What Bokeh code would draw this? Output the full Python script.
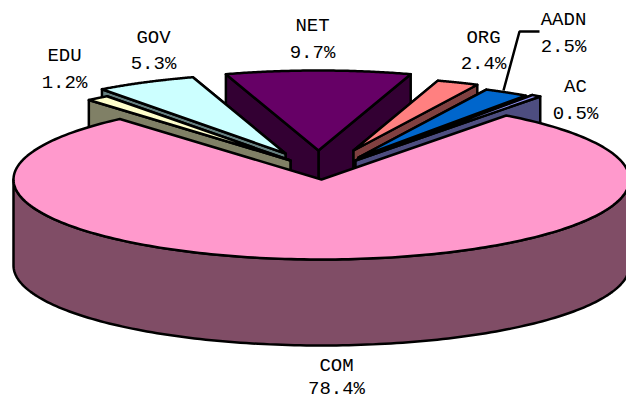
import numpy as np
from bokeh.core.properties import value
from bokeh.embed import file_html
from bokeh.plotting import figure
from bokeh.resources import INLINE

# Domain share of hosts, in percent
names = ["EDU", "GOV", "NET", "ORG", "AADN", "AC", "COM"]
shares = [1.2, 5.3, 9.7, 2.4, 2.5, 0.5, 78.4]
top_colors = ["#ffffcc", "#ccffff", "#660066", "#ff8080", "#0066cc", "#9999ff", "#ff99cc"]
wall_colors = ["#808066", "#668080", "#330033", "#804040", "#003366", "#4d4d80", "#804d66"]

# Pull-out of each wedge from the pie centre in pixels, and its radius factor
pull_x = [-31, -36, -3, 32, 37, 34, 0]
pull_y = [19, 26, 29, 29, 22, 19, 0]
reach = [1, 1, 1, 0.915, 0.945, 1, 1]

# Label anchors: (x, name line y, percent line y)
label_pos = [(64, 55, 82), (153, 37, 63), (312, 25, 52), (483, 37, 63),
             (563, 19, 46), (575, 86, 113), (336, 365, 388)]

leader_x = [503, 519, 539]
leader_y = [90, 31, 31]

CX, CY, RX, RY, DEPTH = 321, 179, 308, 80, 86
START_DEG = 130.9  # clockwise sweep begins at the left edge of the first wedge
STROKE = dict(line_color="black", line_width=2.5, line_join="round")

p = figure(width=626, height=400, x_range=(0, 626), y_range=(400, 0),
           output_backend="svg", toolbar_location=None, min_border=0,
           outline_line_color=None, background_fill_color="white")
p.axis.visible = False
p.grid.visible = False


def rim(a0, a1, cx, cy, k=1.0, n=80):
    t = np.radians(np.linspace(a0, a1, n))
    return cx + k * RX * np.cos(t), cy - k * RY * np.sin(t)


# Angular span of every wedge, sweeping clockwise
spans = {}
angle = START_DEG
for name, share in zip(names, shares):
    sweep = share * 3.6
    spans[name] = (angle, angle - sweep)
    angle -= sweep


def draw_wedge(i):
    a0, a1 = spans[names[i]]
    cx, cy = CX + pull_x[i], CY - pull_y[i]
    # the face turned towards the viewer goes last
    faces = (a1, a0) if (a0 + a1) / 2 > 90 else (a0, a1)
    for a in faces:
        ex, ey = rim(a, a, cx, cy, reach[i], 1)
        p.patch([cx, ex[0], ex[0], cx], [cy, ey[0], ey[0] + DEPTH, cy + DEPTH],
                fill_color=wall_colors[i], **STROKE)
    x, y = rim(a0, a1, cx, cy, reach[i])
    p.patch(np.r_[cx, x], np.r_[cy, y], fill_color=top_colors[i], **STROKE)


# Back wedges first so nearer ones paint over them
for name in ["NET", "GOV", "ORG", "EDU", "AADN", "AC"]:
    draw_wedge(names.index(name))

# The large wedge: outer wall along the front, then its top face with the notch
i = names.index("COM")
a0, a1 = spans["COM"]
wx, wy = rim(180, 360, CX, CY, n=160)
p.patch(np.r_[wx, wx[::-1]], np.r_[wy, wy[::-1] + DEPTH], fill_color=wall_colors[i], **STROKE)
x, y = rim(a0, a1, CX, CY, n=240)
p.patch(np.r_[CX, x], np.r_[CY, y], fill_color=top_colors[i], **STROKE)

p.line(leader_x, leader_y, line_color="black", line_width=2.5)

for name, share, (lx, y0, y1) in zip(names, shares, label_pos):
    p.text([lx, lx], [y0, y1], text=[name, f"{share}%"],
           text_font=value("Liberation Mono"), text_font_size="19px",
           text_color="black", text_align="center", text_baseline="middle")

open("out.html", "w").write(file_html(p, INLINE))
